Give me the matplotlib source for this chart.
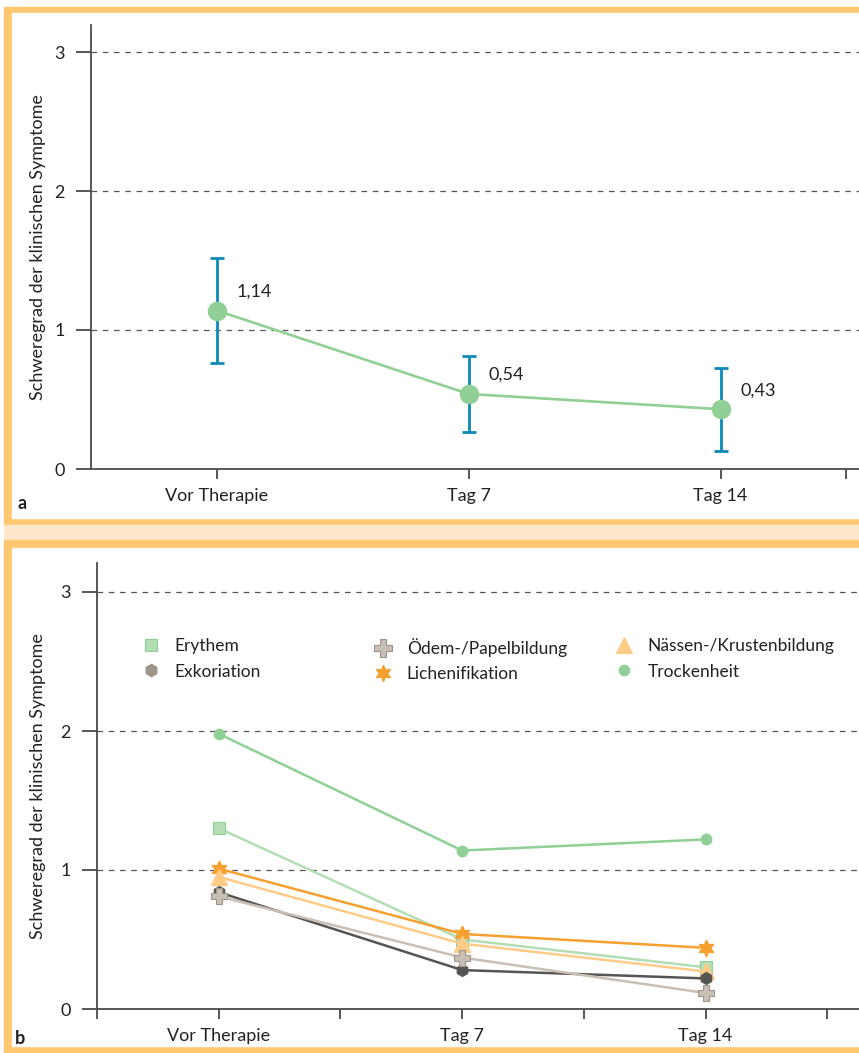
import numpy as np
import matplotlib
matplotlib.use("Agg")
import matplotlib.pyplot as plt
from matplotlib.patches import Rectangle
from matplotlib.lines import Line2D
from matplotlib.legend import Legend

plt.rcParams['font.family'] = ['Lato', 'DejaVu Sans']

# data
zeitpunkte = ["Vor Therapie", "Tag 7", "Tag 14"]
gesamt = [1.14, 0.54, 0.43]
gesamt_fehler = [0.38, 0.275, 0.30]
gesamt_text = ["1,14", "0,54", "0,43"]

erythem = [1.30, 0.50, 0.30]
exkoriation = [0.84, 0.28, 0.22]
oedem = [0.81, 0.37, 0.115]
lichenifikation = [1.01, 0.54, 0.44]
naessen = [0.95, 0.47, 0.27]
trockenheit = [1.98, 1.14, 1.22]

W, H = 859, 1053
fig = plt.figure(figsize=(W / 100, H / 100), dpi=100)

ORANGE = "#FFC870"
PALE = "#FDE8CC"
GRID = "#555555"
AXC = "#4a4a4a"
TXT = "#222222"
FS = 13

def px_rect(x0, y0, x1, y1, color):
    fig.patches.append(Rectangle((x0 / W, 1 - y1 / H), (x1 - x0) / W, (y1 - y0) / H,
                                 transform=fig.transFigure, color=color, zorder=-10))

# frames
px_rect(4, 7, W + 5, 525, ORANGE)
px_rect(12, 13, W + 5, 518, "white")
px_rect(4, 525, W + 5, 540, PALE)
px_rect(4, 540, W + 5, 1053, ORANGE)
px_rect(12, 548, W + 5, 1046, "white")

def make_axes(left, top, bottom):
    ax = fig.add_axes([left / W, 1 - bottom / H, (W - left) / W, (bottom - top) / H])
    ax.set_facecolor("none")
    ax.set_zorder(5)
    for s in ["top", "right"]:
        ax.spines[s].set_visible(False)
    for s in ["left", "bottom"]:
        ax.spines[s].set_color(AXC)
        ax.spines[s].set_linewidth(1.3)
    ax.set_yticks([0, 1, 2, 3])
    ax.set_yticklabels(["0", "1", "2", "3"])
    ax.tick_params(axis="y", length=11, width=1.3, color=AXC, labelsize=FS, pad=8,
                   labelcolor=TXT)
    ax.tick_params(axis="x", which="both", length=7, width=1.3, color=AXC, labelsize=FS,
                   pad=7, labelcolor=TXT)
    for yv in [1, 2, 3]:
        ax.axhline(yv, color=GRID, lw=0.9, ls=(0, (4.5, 4.5)), zorder=1)
    ax.set_ylabel("Schweregrad der klinischen Symptome", fontsize=FS, color=TXT)
    return ax

x = np.arange(len(zeitpunkte))

# panel a
ax1 = make_axes(91, 25, 469)
ax1.set_ylim(0, (469 - 25) / 139)
ax1.set_xlim(-0.5, 2.55)
ax1.set_xticks(x)
ax1.set_xticklabels(zeitpunkte)
ax1.set_xticks([2.5], minor=True)
ax1.errorbar(x, gesamt, yerr=gesamt_fehler, fmt="none", ecolor="#0C89B8",
             elinewidth=2, capsize=5, capthick=2, zorder=2)
ax1.plot(x, gesamt, color="#90CF95", lw=1.9, marker="o", ms=13, zorder=3)
for xi, yi, t in zip(x, gesamt, gesamt_text):
    ax1.annotate(t, (xi, yi), xytext=(20, 19), textcoords="offset pixels",
                 fontsize=FS, color=TXT, va="center", ha="left")
ax1.yaxis.set_label_coords(-45 / (W - 91), 0.5)
fig.text(17 / W, 1 - 503 / H, "a", fontsize=13, fontweight="bold", va="center", color=TXT)

# panel b
ax2 = make_axes(97, 563, 1009)
ax2.set_ylim(0, (1009 - 563) / 139)
ax2.set_xlim(-0.49, 2.63)
ax2.set_xticks(x)
ax2.set_xticklabels(zeitpunkte)
ax2.set_xticks([-0.5, 0.5, 1.5, 2.5], minor=True)
ax2.yaxis.set_label_coords(-51 / (W - 97), 0.5)
fig.text(15 / W, 1 - 1039 / H, "b", fontsize=13, fontweight="bold", va="center", color=TXT)

lw = 1.8
ax2.plot(x, trockenheit, color="#90CF95", lw=lw, marker="o", ms=7.5, zorder=3)
ax2.plot(x, erythem, color="#B3DDB5", lw=lw, marker="s", ms=8.5,
         mfc="#B3DDB5", mec="#90CF95", mew=0.8, zorder=3)
ax2.plot(x, lichenifikation, color="#F7A030", lw=lw, marker=(6, 1, 0), ms=12,
         mfc="#F7A030", mec="#F7A030", zorder=4)
ax2.plot(x, naessen, color="#FFCC88", lw=lw, marker="^", ms=11,
         mfc="#FFCC88", mec="#FFCC88", zorder=4)
ax2.plot(x, exkoriation, color="#555555", lw=lw, marker="h", ms=8.5,
         mfc="#555555", mec="#555555", zorder=5)
ax2.plot(x, oedem, color="#C8BFB5", lw=lw, marker="P", ms=12,
         mfc="#C8BFB5", mec="#9E958A", mew=0.8, zorder=5)

def handle(marker, ms, fc, ec):
    return Line2D([], [], ls="none", marker=marker, ms=ms, mfc=fc, mec=ec, mew=0.8)

cols = [
    ([handle("s", 8.5, "#B3DDB5", "#90CF95"), handle("h", 9, "#9E968A", "#9E968A")],
     ["Erythem", "Exkoriation"], 153),
    ([handle("P", 13, "#C8BFB5", "#9E958A"), handle((6, 1, 0), 12, "#F7A030", "#F7A030")],
     ["Ödem-/Papelbildung", "Lichenifikation"], 385),
    ([handle("^", 12, "#FFCC88", "#FFCC88"), handle("o", 7.5, "#90CF95", "#90CF95")],
     ["Nässen-/Krustenbildung", "Trockenheit"], 626),
]
for hs, ls_, xm in cols:
    leg = Legend(ax2, hs, ls_, loc="upper left", frameon=False, fontsize=12.5,
                 bbox_to_anchor=((xm - 12) / W, 1 - 638 / H),
                 bbox_transform=fig.transFigure, handlelength=1.2,
                 handletextpad=0.75, labelspacing=0.55, borderaxespad=0,
                 borderpad=0, labelcolor=TXT)
    ax2.add_artist(leg)

fig.savefig("out.png", dpi=100)
